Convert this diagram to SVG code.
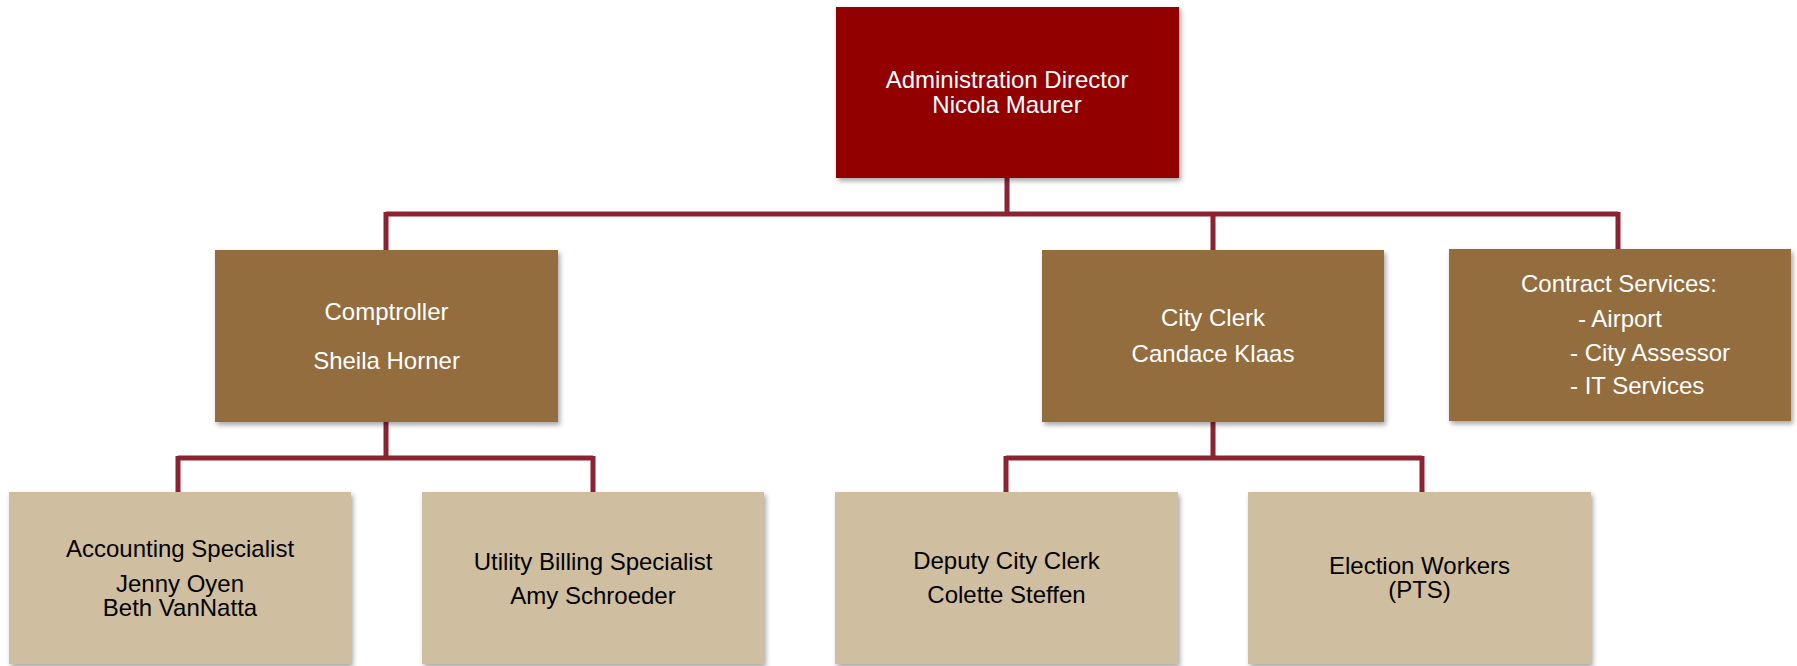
<svg xmlns="http://www.w3.org/2000/svg" width="1797" height="666" viewBox="0 0 1797 666">
<defs>
<filter id="sh" x="-5%" y="-5%" width="115%" height="120%">
<feDropShadow dx="2" dy="3" stdDeviation="2.5" flood-color="#000" flood-opacity="0.35"/>
</filter>
<style>
.top{fill:#920000;filter:url(#sh)}
.mid{fill:#936D3E;filter:url(#sh)}
.low{fill:#D0BEA1;filter:url(#sh)}
text{font-family:"Liberation Sans",Arial,sans-serif;font-size:24px}
.w{fill:#ffffff}
.b{fill:#000000}
.c{text-anchor:middle}
.conn{fill:none;stroke:#8C2332;stroke-width:5}
</style>
</defs>
<rect width="1797" height="666" fill="#ffffff"/>
<g id="connectors" class="conn">
<path d="M1007 178V214M386 214H1618M386 212V251M1213 212V251M1618 212V251"/>
<path d="M386 422V458M178 458H593M178 456V493M593 456V493"/>
<path d="M1213 422V458M1006 458H1422M1006 456V493M1422 456V493"/>
</g>
<g id="director">
<rect class="top" x="836" y="7" width="343" height="171"/>
<text class="w c" x="1007" y="88">Administration Director</text>
<text class="w c" x="1007" y="113">Nicola Maurer</text>
</g>
<g id="comptroller">
<rect class="mid" x="215" y="250" width="343" height="172"/>
<text class="w c" x="386.5" y="320">Comptroller</text>
<text class="w c" x="386.5" y="369">Sheila Horner</text>
</g>
<g id="cityclerk">
<rect class="mid" x="1042" y="250" width="342" height="172"/>
<text class="w c" x="1213" y="326">City Clerk</text>
<text class="w c" x="1213" y="362">Candace Klaas</text>
</g>
<g id="contract">
<rect class="mid" x="1449" y="249" width="342" height="172"/>
<text class="w c" x="1619" y="292">Contract Services:</text>
<text class="w" x="1578" y="327">- Airport</text>
<text class="w" x="1570" y="361">- City Assessor</text>
<text class="w" x="1570" y="394">- IT Services</text>
</g>
<g id="accounting">
<rect class="low" x="9" y="492" width="342" height="172"/>
<text class="b c" x="180" y="557">Accounting Specialist</text>
<text class="b c" x="180" y="592">Jenny Oyen</text>
<text class="b c" x="180" y="616">Beth VanNatta</text>
</g>
<g id="utility">
<rect class="low" x="422" y="492" width="342" height="172"/>
<text class="b c" x="593" y="570">Utility Billing Specialist</text>
<text class="b c" x="593" y="604">Amy Schroeder</text>
</g>
<g id="deputy">
<rect class="low" x="835" y="492" width="343" height="172"/>
<text class="b c" x="1006.5" y="569">Deputy City Clerk</text>
<text class="b c" x="1006.5" y="603">Colette Steffen</text>
</g>
<g id="election">
<rect class="low" x="1248" y="492" width="343" height="172"/>
<text class="b c" x="1419.5" y="574">Election Workers</text>
<text class="b c" x="1419.5" y="598">(PTS)</text>
</g>
</svg>
